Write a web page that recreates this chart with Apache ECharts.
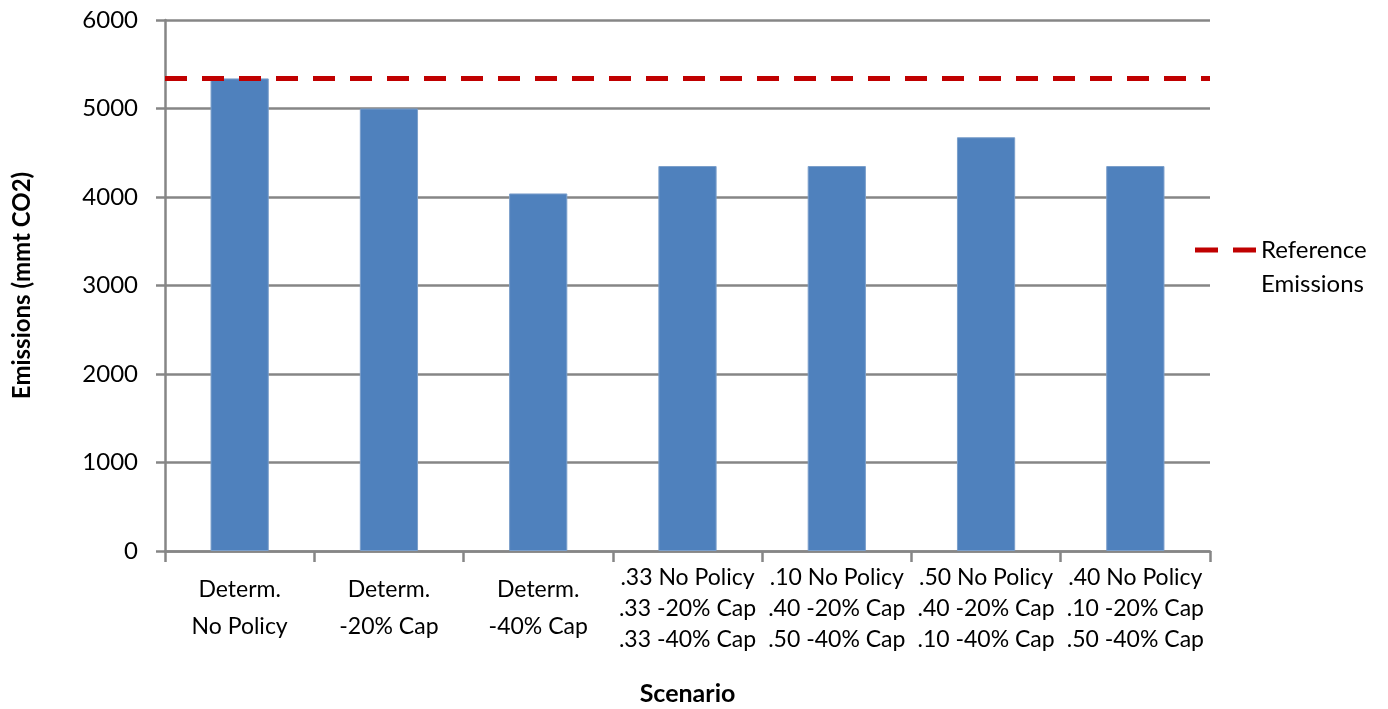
<!DOCTYPE html>
<html>
<head>
<meta charset="utf-8">
<script src="https://cdn.jsdelivr.net/npm/echarts@6/dist/echarts.min.js"></script>
<style>
  html, body { margin: 0; padding: 0; background: #fff; }
  #chart { width: 1388px; height: 709px; }
</style>
</head>
<body>
<div id="chart"></div>
<script>
// scenario labels (x axis)
const scenarios = [
  'Determ.\nNo Policy',
  'Determ.\n-20% Cap',
  'Determ.\n-40% Cap',
  '.33 No Policy\n.33 -20% Cap\n.33 -40% Cap',
  '.10 No Policy\n.40 -20% Cap\n.50 -40% Cap',
  '.50 No Policy\n.40 -20% Cap\n.10 -40% Cap',
  '.40 No Policy\n.10 -20% Cap\n.50 -40% Cap'
]
// emissions per scenario, mmt CO2
const emissions = [5340, 5000, 4040, 4350, 4350, 4675, 4350]
// reference emissions level
const referenceEmissions = 5340
const yTicks = { min: 0, max: 6000, interval: 1000 }

const font = 'Lato, "Open Sans", sans-serif'
const gridColor = '#868686'

const chart = echarts.init(document.getElementById('chart'))

chart.setOption({
  animation: false,
  textStyle: { fontFamily: font, color: '#000' },
  grid: {
    left: 165,
    right: 178,
    top: 20,
    bottom: 158,
    containLabel: false,
    outerBoundsMode: 'none'
  },
  legend: {
    left: 1195,
    top: 204,
    padding: 0,
    orient: 'vertical',
    itemWidth: 61,
    itemHeight: 5,
    // blank first line keeps the icon level with "Reference"
    formatter: name => '{b|}\n' + name.split('\n').map(l => '{a|' + l + '}').join('\n'),
    textStyle: {
      fontSize: 24, color: '#000', fontFamily: font,
      rich: {
        a: { fontSize: 24, lineHeight: 34, fontFamily: font, color: '#000' },
        b: { fontSize: 24, lineHeight: 34 }
      }
    },
    data: [{
      name: 'Reference\nEmissions',
      icon: 'path://M0,0 L23,0 L23,5 L0,5 Z M38,0 L61,0 L61,5 L38,5 Z',
      itemStyle: { color: '#C00000' }
    }]
  },
  xAxis: {
    type: 'category',
    data: scenarios,
    name: 'Scenario',
    nameLocation: 'middle',
    nameGap: 130,
    nameTextStyle: { fontSize: 25, fontWeight: 'bold', color: '#000', fontFamily: font },
    axisLine: { lineStyle: { color: gridColor, width: 2.5 } },
    axisTick: { show: true, length: 11, lineStyle: { color: gridColor, width: 2.5 } },
    axisLabel: {
      interval: 0,
      margin: 11,
      fontSize: 23,
      color: '#000',
      lineHeight: 31,
      formatter: function (value) {
        const lines = value.split('\n')
        if (lines.length === 2) {
          return '{s|}\n{d|' + lines[0] + '}\n{d|' + lines[1] + '}'
        }
        return lines.map(l => '{t|' + l + '}').join('\n')
      },
      rich: {
        s: { lineHeight: 9, fontSize: 23 },
        d: { lineHeight: 37, fontSize: 23, fontFamily: font },
        t: { lineHeight: 31, fontSize: 23, fontFamily: font }
      }
    }
  },
  yAxis: {
    type: 'value',
    min: yTicks.min,
    max: yTicks.max,
    interval: yTicks.interval,
    name: 'Emissions (mmt CO2)',
    nameLocation: 'middle',
    nameGap: 131,
    nameTextStyle: { fontSize: 24, fontWeight: 'bold', color: '#000', fontFamily: font },
    axisLine: { show: true, lineStyle: { color: gridColor, width: 2.5 } },
    axisTick: { show: true, length: 9, lineStyle: { color: gridColor, width: 2.5 } },
    axisLabel: {
      fontSize: 24, color: '#000', margin: 27,
      formatter: v => String(v)
    },
    splitLine: { show: true, lineStyle: { color: gridColor, width: 2.5 } }
  },
  series: [
    {
      name: 'Emissions',
      type: 'bar',
      data: emissions,
      barWidth: '39%',
      itemStyle: { color: '#4F81BD', borderColor: '#7B9FCB', borderWidth: 1 }
    },
    {
      name: 'Reference\nEmissions',
      type: 'line',
      data: [],
      symbol: 'none',
      lineStyle: { color: '#C00000', width: 5, type: [23, 15] },
      itemStyle: { color: '#C00000' },
      markLine: {
        silent: true,
        symbol: 'none',
        label: { show: false },
        lineStyle: { color: '#C00000', width: 5, type: [22, 15] },
        emphasis: { disabled: true },
        data: [{ yAxis: referenceEmissions }]
      }
    }
  ]
})
</script>
</body>
</html>
